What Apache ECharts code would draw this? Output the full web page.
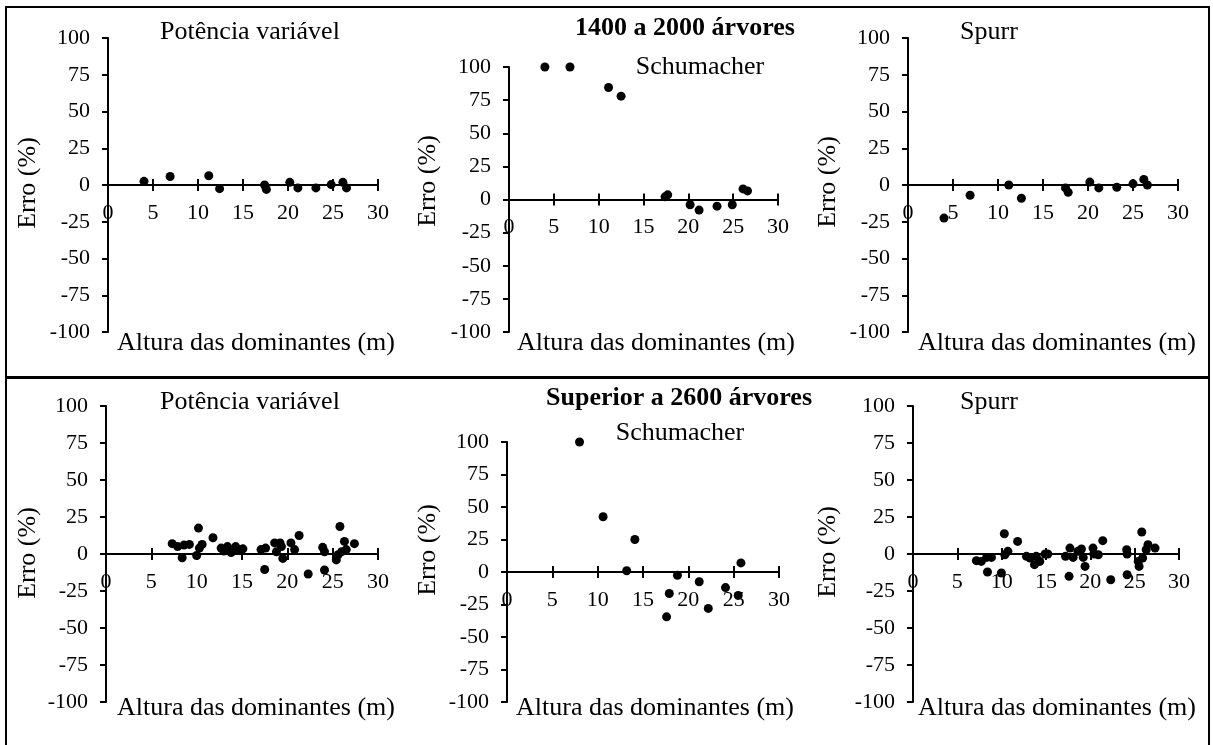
<!DOCTYPE html>
<html><head><meta charset="utf-8">
<script src="https://cdn.jsdelivr.net/npm/echarts@6/dist/echarts.min.js"></script>
<style>html,body{margin:0;padding:0;background:#fff}#c{width:1213px;height:745px}</style>
</head><body><div id="c"></div>
<script>
// tick labels
const xTicks = [0, 5, 10, 15, 20, 25, 30];
const yTicks = [-100, -75, -50, -25, 0, 25, 50, 75, 100];

// 1400 a 2000 árvores
const pv1X = [4.0, 6.9, 11.2, 12.4, 17.4, 17.6, 20.2, 21.1, 23.1, 24.8, 26.1, 26.5];
const pv1Y = [2.5, 5.8, 6.3, -2.5, 0, -3, 1.8, -2, -2, 0.3, 1.8, -2];
const sch1X = [4.0, 6.8, 11.1, 12.5, 17.4, 17.7, 20.2, 21.2, 23.2, 24.9, 26.1, 26.6];
const sch1Y = [100, 100, 84.5, 78, 2, 3.5, -4, -8, -5, -4, 8, 6.5];
const spu1X = [4.0, 6.9, 11.2, 12.6, 17.5, 17.8, 20.2, 21.2, 23.2, 25.0, 26.2, 26.6];
const spu1Y = [-22.5, -7, 0, -9, -2, -5, 2, -2, -1.5, 0.8, 3.8, 0];

// Superior a 2600 árvores
const pv2X = [7.3, 7.9, 8.6, 9.2, 8.4, 10.2, 10.0, 10.3, 10.6, 11.8, 12.7, 13.0, 13.4, 13.8, 14.3, 14.6, 15.1,
  17.1, 17.6, 17.5, 18.6, 18.8, 19.2, 19.35, 19.5, 20.4, 20.8, 21.3, 22.3, 23.9, 24.1, 24.1, 25.4, 25.6, 25.8, 26.0, 26.3, 26.5, 27.4];
const pv2Y = [7, 5, 6, 6.5, -2.5, 17.5, -1, 4, 6.5, 11, 4, 2, 5, 1, 5, 3, 3.5,
  3, 4, -10.5, 7.5, 1.5, 7.5, 5, -3, 7.5, 3, 12.5, -13.5, 4.5, 1.5, -10.8, -4, -0.5, 18.6, 1.6, 8.5, 3, 7];
const sch2X = [8.0, 10.6, 13.2, 14.1, 17.6, 17.9, 18.8, 21.2, 22.2, 24.1, 25.5, 25.8];
const sch2Y = [100, 42.5, 1, 25, -34.5, -16.5, -2.5, -7.5, -28, -12, -18, 7];
const spu2X = [7.15, 7.7, 8.3, 8.85, 8.4, 9.97, 10.3, 10.35, 10.7, 11.8, 12.8, 13.2, 13.7, 13.9, 14.3, 14.9, 15.2,
  17.2, 17.7, 17.6, 18.06, 18.6, 19.0, 19.2, 19.4, 20.3, 20.4, 20.9, 21.4, 22.3, 24.1, 24.15, 24.15, 25.4, 25.5, 25.8, 25.9, 26.3, 26.5, 27.3];
const spu2Y = [-4.5, -5, -2.3, -2.3, -12.2, -12.8, 13.7, -0.5, 1.8, 8.5, -1.6, -2.7, -7.2, -1.6, -5, 0, 0,
  -1.6, 4, -15.1, -2.3, 1.8, 3.4, -2.3, -8.4, 4, 0, -0.5, 9, -17.4, 2.9, 0, -14, -5, -8.4, 14.9, -2.7, 2.9, 6.3, 4];

const FONT = '"Liberation Serif", "Times New Roman", serif';

const panels = [
  { xs: pv1X, ys: pv1Y, g: { left: 108, top: 38, width: 270, height: 294 } },
  { xs: sch1X, ys: sch1Y, g: { left: 509, top: 67, width: 269, height: 265 } },
  { xs: spu1X, ys: spu1Y, g: { left: 908, top: 38, width: 270, height: 294 } },
  { xs: pv2X, ys: pv2Y, g: { left: 106, top: 406, width: 272, height: 296 } },
  { xs: sch2X, ys: sch2Y, g: { left: 507, top: 442, width: 272, height: 260 } },
  { xs: spu2X, ys: spu2Y, g: { left: 913, top: 406, width: 266, height: 296 } }
];

const grid = [], xAxis = [], yAxis = [], series = [];
panels.forEach((p, k) => {
  grid.push(Object.assign({ containLabel: false, outerBoundsMode: 'none' }, p.g));
  // the x axis crosses the y axis at 0, i.e. half-way up the plot
  const zeroOffset = -p.g.height * (yTicks[yTicks.length - 1] / (yTicks[yTicks.length - 1] - yTicks[0]));
  const xBase = {
    type: 'value', gridIndex: k, position: 'bottom', offset: zeroOffset,
    min: xTicks[0], max: xTicks[xTicks.length - 1], interval: xTicks[1] - xTicks[0],
    splitLine: { show: false },
    axisLine: { show: true, onZero: false, lineStyle: { color: '#000', width: 2 } }
  };
  xAxis.push(Object.assign({}, xBase, {
    axisTick: { show: true, inside: false, length: 6, lineStyle: { color: '#000', width: 2 } },
    axisLabel: { show: true, margin: 17, color: '#000', fontFamily: FONT, fontSize: 22 }
  }));
  xAxis.push(Object.assign({}, xBase, {
    axisTick: { show: true, inside: true, length: 6, lineStyle: { color: '#000', width: 2 } },
    axisLabel: { show: false }
  }));
  yAxis.push({
    type: 'value', gridIndex: k, position: 'left',
    min: yTicks[0], max: yTicks[yTicks.length - 1], interval: yTicks[1] - yTicks[0],
    splitLine: { show: false },
    axisLine: { show: true, onZero: false, lineStyle: { color: '#000', width: 2 } },
    axisTick: { show: true, inside: false, length: 6, lineStyle: { color: '#000', width: 2 } },
    axisLabel: { show: true, margin: 18, color: '#000', fontFamily: FONT, fontSize: 22 }
  });
  series.push({
    type: 'scatter', xAxisIndex: 2 * k, yAxisIndex: k,
    symbol: 'circle', symbolSize: 9,
    itemStyle: { color: '#000', opacity: 1 },
    data: p.xs.map((x, i) => [x, p.ys[i]]),
    silent: true, animation: false
  });
});

function txt(text, x, y, size, bold, rot) {
  return {
    type: 'text', x: x, y: y, rotation: rot || 0, silent: true,
    style: { text: text, x: 0, y: 0, fill: '#000', align: 'center', verticalAlign: 'middle',
      font: (bold ? 'bold ' : '') + size + 'px ' + FONT }
  };
}

const graphic = [
  { type: 'rect', silent: true, shape: { x: 6, y: 7, width: 1203, height: 370 }, style: { fill: 'none', stroke: '#000', lineWidth: 2 } },
  { type: 'rect', silent: true, shape: { x: 6, y: 378, width: 1203, height: 400 }, style: { fill: 'none', stroke: '#000', lineWidth: 2 } },
  txt('Potência variável', 250, 32, 26),
  txt('1400 a 2000 árvores', 685, 28, 26, true),
  txt('Schumacher', 700, 67, 26),
  txt('Spurr', 989, 32, 26),
  txt('Potência variável', 250, 402, 26),
  txt('Superior a 2600 árvores', 679, 398, 26, true),
  txt('Schumacher', 680, 433, 26),
  txt('Spurr', 989, 402, 26)
];
[[28, 183], [428, 181], [828, 182], [28, 553], [428, 550], [828, 552]].forEach(c => {
  graphic.push(txt('Erro (%)', c[0], c[1], 26, false, Math.PI / 2));
});
[[256, 343], [656, 343], [1057, 343], [256, 708], [655, 708], [1057, 708]].forEach(c => {
  graphic.push(txt('Altura das dominantes (m)', c[0], c[1], 26));
});

const chart = echarts.init(document.getElementById('c'), null, { renderer: 'canvas' });
chart.setOption({
  backgroundColor: '#fff',
  animation: false,
  grid: grid, xAxis: xAxis, yAxis: yAxis, series: series, graphic: graphic
});
</script>
</body></html>
